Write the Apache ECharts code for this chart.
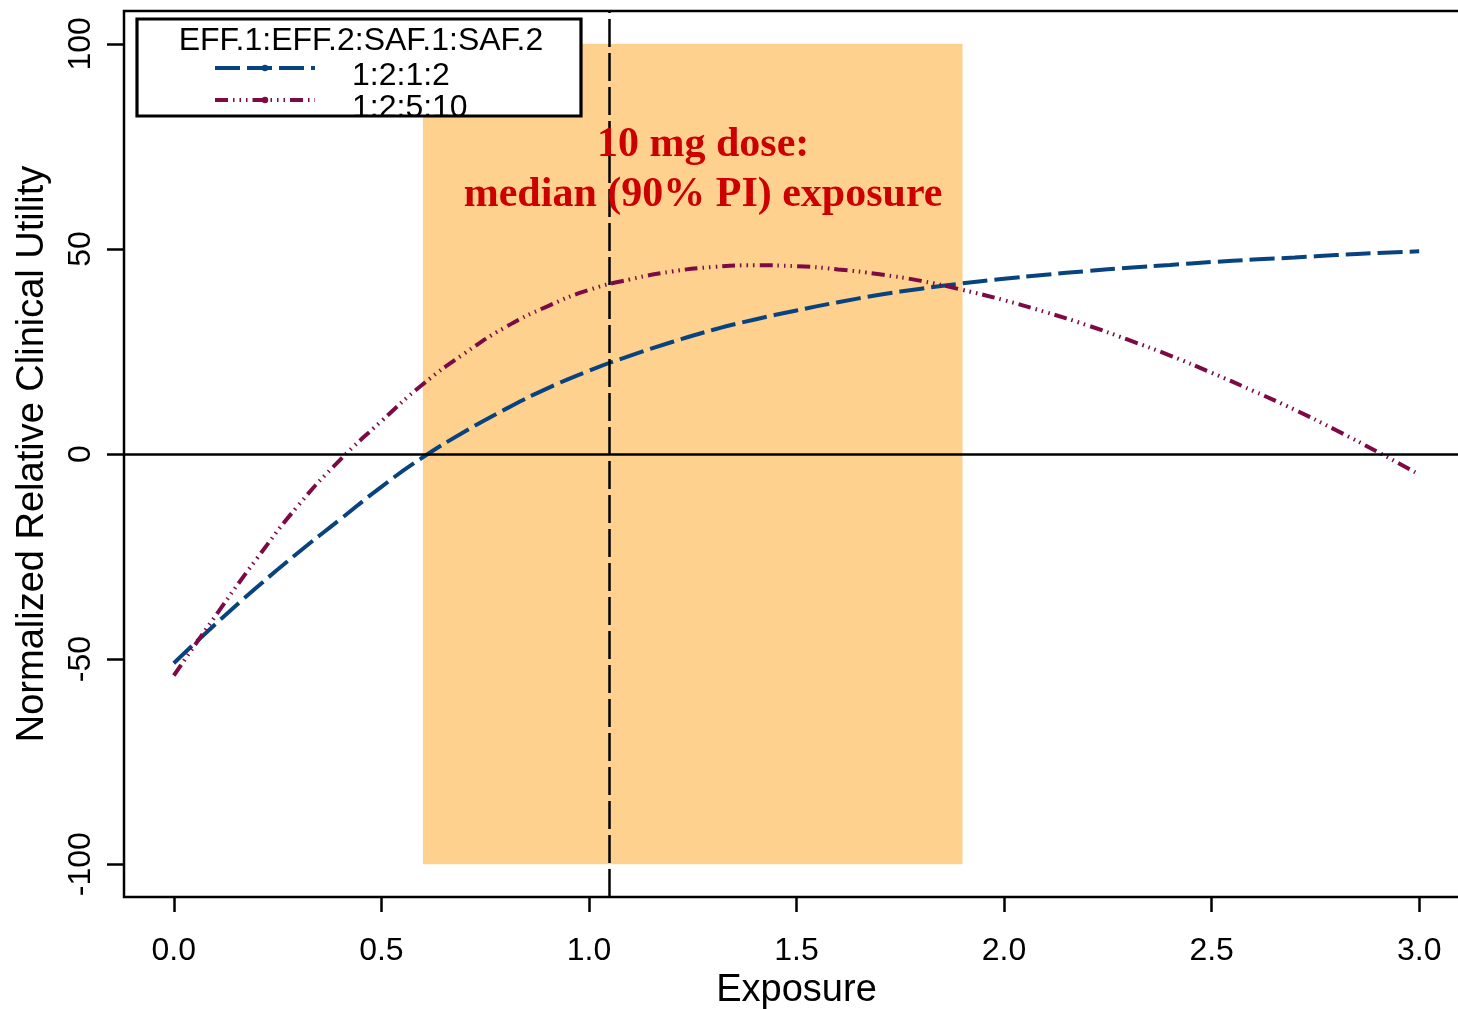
<!DOCTYPE html>
<html>
<head>
<meta charset="utf-8">
<script src="https://cdn.jsdelivr.net/npm/echarts@6/dist/echarts.min.js"></script>
<style>
html,body{margin:0;padding:0;background:#fff;overflow:hidden;width:1458px;height:1009px;}
#chart{width:1490px;height:1009px;}
</style>
</head>
<body>
<div id="chart"></div>
<script>
// ---- data ----
const exposure = [0.0,0.1,0.2,0.3,0.4,0.5,0.6,0.7,0.8,0.9,1.0,1.1,1.2,1.3,1.4,1.5,1.6,1.7,1.8,1.9,2.0,2.1,2.2,2.3,2.4,2.5,2.6,2.7,2.8,2.9,3.0];
const util_1_2_1_2 = [-51,-41.5,-32.5,-24,-16,-8,-0.8,5.4,11,16,20.3,24,27.3,30.3,32.8,35,37,38.8,40.3,41.6,42.7,43.7,44.6,45.4,46.1,46.8,47.4,47.9,48.5,49,49.4];
const util_1_2_5_10 = [-54,-39.5,-25.5,-12.5,-1.5,8,17,24.5,31,36,40,42.6,44.5,45.6,46,45.8,45,43.8,42.2,40,37.5,34.6,31.4,27.8,24,19.8,15.4,10.8,5.8,0.5,-5];
const seriesNames = ['1:2:1:2', '1:2:5:10'];
const legendTitle = 'EFF.1:EFF.2:SAF.1:SAF.2';
const xTicks = [0, 0.5, 1.0, 1.5, 2.0, 2.5, 3.0];
const yTicks = [-100, -50, 0, 50, 100];
const piExposure = [0.6, 1.9];      // 90% PI exposure range
const piUtility = [-100, 100];      // shaded band vertical extent
const medianExposure = 1.05;
const annotationText = '10 mg dose:\nmedian (90% PI) exposure';
const annotationAt = [1.275, 69.2];
const xLimits = [-0.12, 3.12];
const yLimits = [-108, 108];

const pairs = (xs, ys) => xs.map((x, i) => [x, ys[i]]);

const BLUE = '#08437F';
const PURPLE = '#7D0A44';
const SANS = 'Liberation Sans, Arial, sans-serif';

const chart = echarts.init(document.getElementById('chart'));
chart.setOption({
  animation: false,
  backgroundColor: '#fff',
  grid: {
    left: 124, top: 11, width: 1345, bottom: 112,
    outerBoundsMode: 'none', containLabel: false,
    show: true, borderColor: '#000', borderWidth: 2.5, backgroundColor: 'transparent'
  },
  xAxis: {
    type: 'value', min: xLimits[0], max: xLimits[1],
    splitLine: { show: false },
    axisLine: { show: false, onZero: false },
    axisTick: { show: true, inside: false, length: 15, customValues: xTicks, lineStyle: { color: '#000', width: 2.5 } },
    axisLabel: { customValues: xTicks, fontSize: 32, fontFamily: SANS, color: '#000', margin: 38,
      formatter: v => v.toFixed(1) },
    name: 'Exposure', nameLocation: 'middle', nameGap: 75,
    nameTextStyle: { fontSize: 38, fontFamily: SANS, color: '#000' }
  },
  yAxis: {
    type: 'value', min: yLimits[0], max: yLimits[1],
    splitLine: { show: false },
    axisLine: { show: false, onZero: false },
    axisTick: { show: true, inside: false, length: 17, customValues: yTicks, lineStyle: { color: '#000', width: 2.5 } },
    axisLabel: { customValues: yTicks, rotate: 90, fontSize: 32, fontFamily: SANS, color: '#000', margin: 27 },
    name: 'Normalized Relative Clinical Utility', nameLocation: 'middle', nameGap: 72, nameRotate: 90,
    nameTextStyle: { fontSize: 38, fontFamily: SANS, color: '#000' }
  },
  legend: {
    data: seriesNames,
    orient: 'vertical', left: 213, top: 44, itemGap: -16,
    itemWidth: 100, itemHeight: 8, padding: 0,
    backgroundColor: 'transparent',
    lineStyle: { width: 4 },
    formatter: '{t|{name}}',
    textStyle: {
      fontSize: 32, fontFamily: SANS, color: '#000', padding: [0, 0, 0, 32],
      rich: { t: { fontSize: 32, fontFamily: SANS, color: '#000', lineHeight: 22, padding: [16, 0, 0, 0] } }
    },
    selectedMode: false
  },
  graphic: [
    { type: 'rect', z: 3, shape: { x: 137, y: 19, width: 444, height: 97 },
      style: { fill: '#fff', stroke: '#000', lineWidth: 3.2 } },
    { type: 'text', z: 5, x: 361, y: 41,
      style: { text: legendTitle, fontSize: 32, fontFamily: SANS, fill: '#000', align: 'center', verticalAlign: 'middle' } }
  ],
  series: [
    {
      type: 'line', data: [], z: 1, silent: true,
      markArea: {
        silent: true,
        itemStyle: { color: '#FED18F', opacity: 1 },
        data: [[{ xAxis: piExposure[0], yAxis: piUtility[0] }, { xAxis: piExposure[1], yAxis: piUtility[1] }]]
      },
      markPoint: {
        silent: true, symbol: 'circle', symbolSize: 0,
        itemStyle: { color: 'transparent' },
        label: { show: true, position: 'inside', formatter: annotationText, fontSize: 42, lineHeight: 50,
          fontWeight: 'bold', fontFamily: 'Liberation Serif, Times New Roman, serif', color: '#CC0000', align: 'center' },
        data: [{ coord: annotationAt }]
      }
    },
    {
      type: 'line', data: [], z: 3, silent: true,
      markLine: {
        silent: true, symbol: ['none', 'none'], label: { show: false },
        emphasis: { disabled: true },
        data: [
          { yAxis: 0, lineStyle: { color: '#000', width: 2.5, type: 'solid' } },
          { xAxis: medianExposure, lineStyle: { color: '#000', width: 2.5, type: [28, 6] } }
        ]
      }
    },
    {
      name: seriesNames[0], type: 'line', z: 2,
      data: pairs(exposure, util_1_2_1_2),
      smooth: true, showSymbol: false, symbol: 'circle', symbolSize: 6,
      itemStyle: { color: BLUE },
      lineStyle: { color: BLUE, width: 4, type: [25, 7], cap: 'butt' }
    },
    {
      name: seriesNames[1], type: 'line', z: 2,
      data: pairs(exposure, util_1_2_5_10),
      smooth: true, showSymbol: false, symbol: 'circle', symbolSize: 6,
      itemStyle: { color: PURPLE },
      lineStyle: { color: PURPLE, width: 4, type: [13, 5, 1.5, 5, 1.5, 5, 1.5, 5], cap: 'butt' }
    }
  ]
});
</script>
</body>
</html>
